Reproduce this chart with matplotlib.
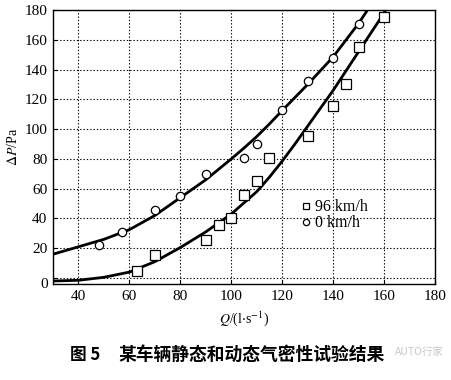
import matplotlib
matplotlib.use("Agg")
import matplotlib.pyplot as plt

# ---- data ----
q_96 = [63, 70, 90, 95, 100, 105, 110, 115, 130, 140, 145, 150, 160]
p_96 = [5, 15.4, 25.7, 35.8, 40, 56, 65, 80.5, 95.5, 115.6, 130, 155, 175.6]

q_0 = [48, 57, 70, 80, 90, 105, 110, 120, 130, 140, 150]
p_0 = [22.3, 30.6, 45.4, 54.8, 70, 80.5, 90, 113, 132, 148, 170.7]

# fitted curves as drawn in the reference
curve_q_0 = [30, 40, 50, 60, 70, 80, 90, 100, 105, 110, 115, 120, 130, 140, 150, 153.5]
curve_p_0 = [16, 21, 26, 32.5, 42, 54, 66, 80, 87.3, 95, 103.5, 112.5, 130, 148.5, 171, 180]

curve_q_96 = [30, 40, 50, 60, 70, 80, 90, 100, 110, 115, 120, 125, 130, 140, 150, 160, 160.6]
curve_p_96 = [-2, -1.5, 0.5, 4, 11, 20.5, 31, 43, 58, 67.8, 78.5, 90, 102, 126, 152, 178, 180]

x_ticks = [40, 60, 80, 100, 120, 140, 160, 180]
y_ticks = [0, 20, 40, 60, 80, 100, 120, 140, 160, 180]

serif = ["Liberation Serif", "DejaVu Serif"]
cjk = ["Noto Sans CJK SC", "DejaVu Sans"]
plt.rcParams["mathtext.fontset"] = "stix"

fig = plt.figure(figsize=(4.52, 3.80), dpi=100)
ax = fig.add_axes([53 / 452, 1 - 284 / 380, (435 - 53) / 452, (284 - 10) / 380])

ax.plot(curve_q_0, curve_p_0, color="black", lw=2.0, zorder=3)
ax.plot(curve_q_96, curve_p_96, color="black", lw=2.0, zorder=3)
ax.plot(q_96, p_96, ls="none", marker="s", ms=6.5, mfc="white", mec="black",
        mew=0.9, label="96 km/h", zorder=4)
ax.plot(q_0, p_0, ls="none", marker="o", ms=6, mfc="white", mec="black",
        mew=0.9, label="0 km/h", zorder=4)

ax.set_xlim(30, 180)
ax.set_ylim(-4, 180)
ax.set_xticks(x_ticks)
ax.set_yticks(y_ticks)
ax.set_xticklabels([str(v) for v in x_ticks], family=serif, fontsize=11)
ax.set_yticklabels([""] + [str(v) for v in y_ticks[1:]], family=serif, fontsize=11)
ax.text(-0.012, 0, "0", transform=ax.transAxes, ha="right", va="center",
        family=serif, fontsize=11)
ax.tick_params(direction="in", length=3, width=0.8, pad=4)
ax.grid(True, color="black", ls=(0, (1.2, 1.8)), lw=0.8)
for s in ax.spines.values():
    s.set_linewidth(1.0)

ax.set_xlabel(r"$Q$/(l$\cdot$s$^{-1}$)", family=serif, fontsize=10, labelpad=5)
ax.set_ylabel(r"$\Delta P$/Pa", family=serif, fontsize=10, labelpad=3)

leg = ax.legend(loc="upper left", bbox_to_anchor=(0.62, 0.35), frameon=False,
                prop={"family": serif, "size": 11.5}, handlelength=0.6,
                handletextpad=0.3, labelspacing=0.0, markerscale=0.75,
                borderpad=0.2)

fig.text(70 / 452, 1 - 355 / 380, "图 5", family=cjk, fontsize=12,
         fontweight="bold", ha="left", va="center")
fig.text(118 / 452, 1 - 355 / 380, "某车辆静态和动态气密性试验结果", family=cjk,
         fontsize=12.8, fontweight="bold", ha="left", va="center")
fig.text(395 / 452, 1 - 352 / 380, "AUTO行家", family=cjk, fontsize=7.5,
         color="#c8c8c8", ha="left", va="center")

fig.savefig("out.png", dpi=100)
